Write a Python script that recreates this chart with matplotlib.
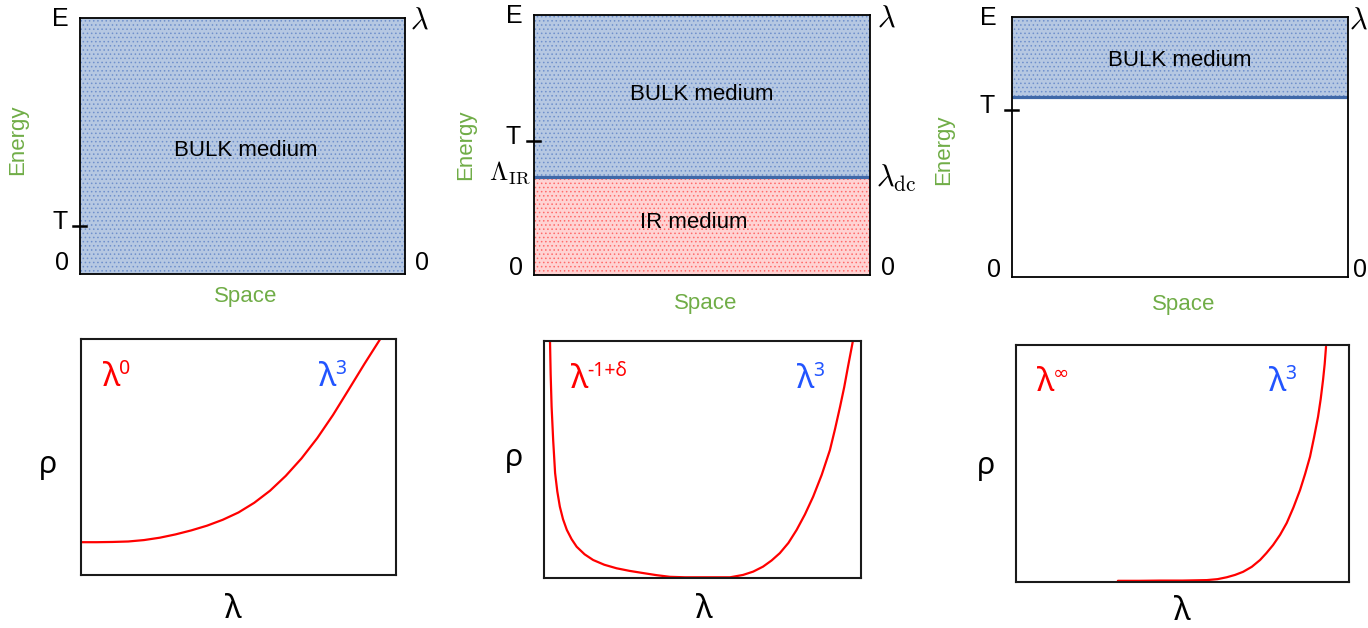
import matplotlib
matplotlib.use("Agg")
import matplotlib.pyplot as plt

plt.rcParams["hatch.linewidth"] = 0.6

W, H = 1368, 628

# ---------------- data ----------------
# top panels: energy levels (fraction of panel height)
t_levels = [0.1875, 0.515, 0.642]          # "T" tick position
bulk_low = [0.0, 0.377, 0.692]             # lower edge of BULK medium
ir_top = [None, 0.377, None]               # IR medium upper edge

# bottom panels: rho(lambda) curves (axis fractions)
c1_x = [0.00, 0.05, 0.10, 0.15, 0.20, 0.25, 0.30, 0.35, 0.40, 0.45,
        0.50, 0.55, 0.60, 0.65, 0.70, 0.75, 0.80, 0.85, 0.90, 0.95]
c1_y = [0.139, 0.139, 0.140, 0.142, 0.148, 0.158, 0.172, 0.189, 0.209, 0.234,
        0.265, 0.306, 0.357, 0.420, 0.494, 0.580, 0.678, 0.786, 0.895, 1.0]

c2_x = [0.019, 0.021, 0.024, 0.029, 0.035, 0.042, 0.050, 0.060, 0.072, 0.087, 0.103,
        0.128, 0.155, 0.19, 0.229, 0.27, 0.312, 0.355, 0.397, 0.445, 0.492, 0.54,
        0.587, 0.628, 0.66, 0.691, 0.718, 0.744, 0.771, 0.797, 0.823, 0.849, 0.876,
        0.902, 0.918, 0.934, 0.947, 0.959, 0.974]
c2_y = [0.997, 0.86, 0.723, 0.58, 0.443, 0.365, 0.301, 0.248, 0.203, 0.164, 0.132,
        0.100, 0.076, 0.056, 0.041, 0.030, 0.021, 0.012, 0.005, 0.003, 0.003, 0.003,
        0.003, 0.013, 0.027, 0.048, 0.074, 0.105, 0.148, 0.203, 0.268, 0.343, 0.435,
        0.540, 0.628, 0.723, 0.805, 0.892, 0.997]

c3_x = [0.306, 0.37, 0.432, 0.50, 0.573, 0.605, 0.633, 0.658, 0.682, 0.708, 0.733,
        0.752, 0.772, 0.793, 0.813, 0.833, 0.853, 0.868, 0.883, 0.895, 0.907, 0.915,
        0.922, 0.927, 0.931]
c3_y = [0.005, 0.005, 0.006, 0.006, 0.008, 0.012, 0.020, 0.030, 0.043, 0.064, 0.093,
        0.122, 0.156, 0.199, 0.249, 0.314, 0.388, 0.455, 0.529, 0.610, 0.697, 0.772,
        0.852, 0.92, 0.993]

low_sups = ["0", "-1+δ", "∞"]
high_sup = "3"

# ---------------- styles ----------------
SANS = ["Liberation Sans", "DejaVu Sans"]
SANS2 = ["Noto Sans", "DejaVu Sans"]
GREEN = "#70ad47"
BLUE_FILL = "#b6c8e2"
BLUE_DOT = "#6f90cc"
RED_FILL = "#ffd3d3"
RED_DOT = "#ff6a6a"
LINE_BLUE = "#3f68a8"
RED = "#ff0000"
BLUE_TXT = "#2255ff"

fig = plt.figure(figsize=(W / 100, H / 100), dpi=100)


def fx(px):
    return px / W


def fy(py):
    return 1 - py / H


def ftext(px, py, s, **kw):
    kw.setdefault("ha", "center")
    kw.setdefault("va", "center")
    return fig.text(fx(px), fy(py), s, **kw)


def box(x0, y0, x1, y1):
    return fig.add_axes([fx(x0), fy(y1), (x1 - x0) / W, (y1 - y0) / H])


top_boxes = [(80, 18, 405, 274), (534, 15, 870, 275), (1012, 17, 1348, 277)]
bot_boxes = [(81, 339, 396, 575), (544, 341, 861, 578), (1016, 345, 1349, 582)]

# ---------------- top panels ----------------
for i, b in enumerate(top_boxes):
    ax = box(*b)
    ax.set_xlim(0, 1)
    ax.set_ylim(0, 1)
    ax.set_xticks([])
    ax.set_yticks([])
    for s in ax.spines.values():
        s.set_linewidth(1.3)
        s.set_color("black")
        s.set_zorder(5)
    ax.axhspan(bulk_low[i], 1.0, facecolor=BLUE_FILL, edgecolor=BLUE_DOT,
               hatch="....", linewidth=0, zorder=1)
    if ir_top[i] is not None:
        ax.axhspan(0.0, ir_top[i], facecolor=RED_FILL, edgecolor=RED_DOT,
                   hatch="....", linewidth=0, zorder=1)
    if bulk_low[i] > 0:
        ax.axhline(bulk_low[i], color=LINE_BLUE, lw=2.3, zorder=3)
    ax.plot([-0.022, 0.018], [t_levels[i], t_levels[i]],
            transform=ax.get_yaxis_transform(), clip_on=False,
            color="black", lw=1.8, zorder=6)

tfs = 18
# panel 1
ftext(60, 19, "E", family=SANS, fontsize=tfs)
ftext(419, 20, r"$\lambda$", fontsize=22, math_fontfamily="cm")
ftext(60, 222, "T", family=SANS, fontsize=tfs)
ftext(62, 263, "0", family=SANS, fontsize=tfs)
ftext(422, 263, "0", family=SANS, fontsize=tfs)
ftext(18, 140, "Energy", family=SANS, fontsize=16, color=GREEN, rotation=90)
ftext(246, 297, "Space", family=SANS, fontsize=16, color=GREEN)
ftext(246, 150, "BULK medium", family=SANS, fontsize=16)

# panel 2
ftext(514, 16, "E", family=SANS, fontsize=tfs)
ftext(886, 18, r"$\lambda$", fontsize=22, math_fontfamily="cm")
ftext(513, 137, "T", family=SANS, fontsize=tfs)
ftext(510, 173, r"$\Lambda_{\rm IR}$", fontsize=19, math_fontfamily="cm")
ftext(896, 178, r"$\lambda_{\rm dc}$", fontsize=22, math_fontfamily="cm")
ftext(516, 268, "0", family=SANS, fontsize=tfs)
ftext(888, 268, "0", family=SANS, fontsize=tfs)
ftext(466, 145, "Energy", family=SANS, fontsize=16, color=GREEN, rotation=90)
ftext(706, 304, "Space", family=SANS, fontsize=16, color=GREEN)
ftext(702, 94, "BULK medium", family=SANS, fontsize=16)
ftext(694, 222, "IR medium", family=SANS, fontsize=16)

# panel 3
ftext(988, 18, "E", family=SANS, fontsize=tfs)
ftext(1358, 20, r"$\lambda$", fontsize=22, math_fontfamily="cm")
ftext(987, 106, "T", family=SANS, fontsize=tfs)
ftext(994, 270, "0", family=SANS, fontsize=tfs)
ftext(1360, 270, "0", family=SANS, fontsize=tfs)
ftext(944, 150, "Energy", family=SANS, fontsize=16, color=GREEN, rotation=90)
ftext(1184, 305, "Space", family=SANS, fontsize=16, color=GREEN)
ftext(1180, 60, "BULK medium", family=SANS, fontsize=16)

# ---------------- bottom panels ----------------
curves = [(c1_x, c1_y), (c2_x, c2_y), (c3_x, c3_y)]
for i, b in enumerate(bot_boxes):
    ax = box(*b)
    ax.set_xlim(0, 1)
    ax.set_ylim(0, 1)
    ax.set_xticks([])
    ax.set_yticks([])
    for s in ax.spines.values():
        s.set_linewidth(1.5)
        s.set_color("#1a1a1a")
        s.set_zorder(5)
    cx, cy = curves[i]
    ax.plot(cx, cy, color=RED, lw=1.6, zorder=3, solid_capstyle="round")

# overlay axes for annotations attached to text artists
ov = fig.add_axes([0, 0, 1, 1], zorder=10)
ov.set_axis_off()
ov.patch.set_alpha(0)

# labels on bottom panels: (red lambda left x, baseline y, blue lambda left x)
lab_pos = [
    (103, 386, 319),
    (571, 388, 797),
    (1037, 391, 1269),
]
for i, (lx, by, bx) in enumerate(lab_pos):
    t1 = ftext(lx, by, "λ", family=SANS2, fontsize=24, color=RED,
               ha="left", va="baseline")
    ov.annotate(low_sups[i], xy=(1.0, fy(by - 12)),
                xycoords=(t1, "figure fraction"), xytext=(-1, 0),
                textcoords="offset points", family=SANS2, fontsize=14,
                color=RED, ha="left", va="baseline")
    t2 = ftext(bx, by, "λ", family=SANS2, fontsize=24, color=BLUE_TXT,
               ha="left", va="baseline")
    ov.annotate(high_sup, xy=(1.0, fy(by - 12)),
                xycoords=(t2, "figure fraction"), xytext=(-1, 0),
                textcoords="offset points", family=SANS2, fontsize=14,
                color=BLUE_TXT, ha="left", va="baseline")

ftext(48, 465, "ρ", family=SANS2, fontsize=22)
ftext(514, 458, "ρ", family=SANS2, fontsize=22)
ftext(986, 466, "ρ", family=SANS2, fontsize=22)
ftext(233, 610, "λ", family=SANS2, fontsize=23)
ftext(704, 610, "λ", family=SANS2, fontsize=23)
ftext(1182, 612, "λ", family=SANS2, fontsize=23)

fig.savefig("out.png", dpi=100)
